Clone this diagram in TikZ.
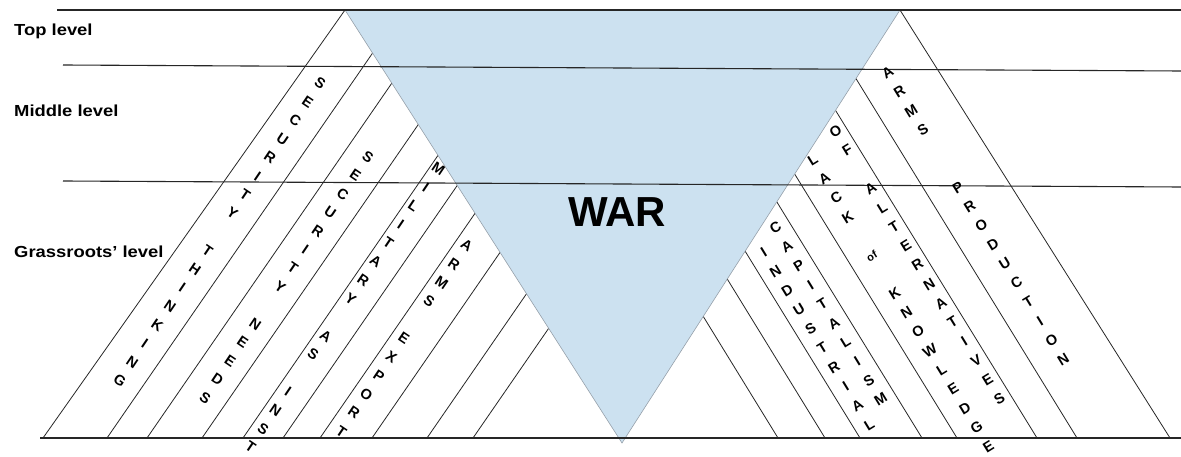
\documentclass[tikz,border=0pt]{standalone}
\usepackage{fontspec}
\usepackage{graphicx}
\setmainfont{Liberation Sans}
\definecolor{warblue}{RGB}{204,225,240}
\definecolor{edgegray}{RGB}{150,160,170}
\begin{document}
\begin{tikzpicture}[x=1pt,y=-1pt,
  hline/.style={line width=1.1pt, black!85},
  dline/.style={line width=0.8pt, black!85},
  stackL/.style={rotate=-34, align=center, inner sep=0pt, font=\bfseries\fontsize{14.5}{22.4}\selectfont},
  stackR/.style={rotate=31.5, align=center, inner sep=0pt, font=\bfseries\fontsize{14.5}{22.4}\selectfont},
  lvl/.style={anchor=base west, inner sep=0pt, font=\bfseries\fontsize{16}{18}\selectfont}]
\useasboundingbox (0,0) rectangle (1181,457);

% left diagonal band lines
\coordinate (LB) at (43,438);
\coordinate (LT) at (345,10);
\draw[dline] (LB) -- (LT);
\foreach \x [count=\i] in {107,147,202,243,283,320,372,427,473}{
  \coordinate (lb\i) at (\x,438);
  \coordinate (lt\i) at ({\x+295.3},10);
  \draw[dline] (lb\i) -- (lt\i);
}
% right diagonal band lines
\coordinate (RB) at (1170,438);
\coordinate (RT) at (900,10);
\draw[dline] (RB) -- (RT);
\foreach \x [count=\i] in {778,825,860,922,957,1037,1077}{
  \coordinate (rb\i) at (\x,438);
  \coordinate (rt\i) at ({\x-263.2},10);
  \draw[dline] (rb\i) -- (rt\i);
}

% WAR triangle
\coordinate (W1) at (345,10);
\coordinate (W2) at (900,10);
\coordinate (W3) at (622,443);
\fill[warblue] (W1) -- (W2) -- (W3) -- cycle;
\draw[edgegray, line width=0.6pt] (W1) -- (W3) -- (W2);

% level lines
\coordinate (h1a) at (57,10);   \coordinate (h1b) at (1181,10);
\coordinate (h2a) at (63,65);   \coordinate (h2b) at (1181,71);
\coordinate (h3a) at (63,181);  \coordinate (h3b) at (1181,187);
\coordinate (h4a) at (40,438);  \coordinate (h4b) at (1181,438);
\draw[hline] (h1a) -- (h1b);
\draw[hline] (h2a) -- (h2b);
\draw[hline] (h3a) -- (h3b);
\draw[hline] (h4a) -- (h4b);

% level labels
\node[lvl] (ltop) at (14,36) {\scalebox{1.15}[1]{Top level}};
\node[lvl] (lmid) at (14,117) {\scalebox{1.15}[1]{Middle level}};
\node[lvl] (lgr) at (14,258) {\scalebox{1.15}[1]{Grassroots' level}};

% WAR
\node[font=\bfseries\fontsize{42}{42}\selectfont, inner sep=0pt] (war) at (617,212) {WAR};

% left stacks
\node[stackL] (st1) at (220,232) {S\\E\\C\\U\\R\\I\\T\\Y\\~\\T\\H\\I\\N\\K\\I\\N\\G};
\node[stackL] (st2) at (286.5,277.5) {S\\E\\C\\U\\R\\I\\T\\Y\\~\\N\\E\\E\\D\\S};
\node[stackL] (st3) at (344.5,308) {M\\I\\L\\I\\T\\A\\R\\Y\\~\\A\\S\\~\\I\\N\\S\\T};
\node[stackL] (st4) at (404,338.5) {A\\R\\M\\S\\~\\E\\X\\P\\O\\R\\T};

% right stacks
\node[stackR] (sr1) at (816.5,338.5) {I\\N\\D\\U\\S\\T\\R\\I\\A\\L};
\node[stackR] (sr2) at (828,313.5) {C\\A\\P\\I\\T\\A\\L\\I\\S\\M};
\node[stackR] (sr3) at (900.5,303) {L\\A\\C\\K\\~\\{\fontsize{11}{22.4}\selectfont of}\\~\\K\\N\\O\\W\\L\\E\\D\\G\\E};
\node[stackR] (sr4) at (917.5,265) {O\\F\\~\\A\\L\\T\\E\\R\\N\\A\\T\\I\\V\\E\\S};
\node[stackR] (sr5) at (975.5,216) {A\\R\\M\\S\\~\\~\\P\\R\\O\\D\\U\\C\\T\\I\\O\\N};
\end{tikzpicture}
\end{document}
